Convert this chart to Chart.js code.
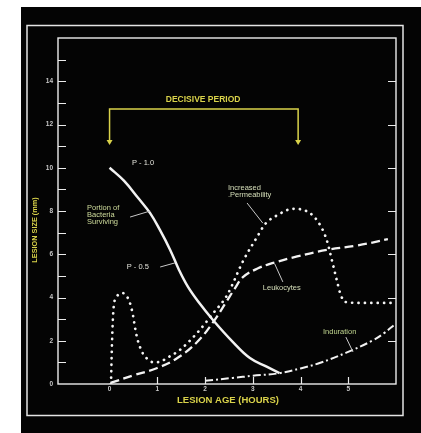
<!DOCTYPE html>
<html>
<head>
<meta charset="utf-8">
<script src="https://cdn.jsdelivr.net/npm/chart.js@4.4.1/dist/chart.umd.min.js"></script>
<style>
  html, body { margin: 0; padding: 0; background: #ffffff; }
  canvas { display: block; }
</style>
</head>
<body>
<canvas id="c" width="421" height="433"></canvas>
<script>
// Lesion age (hours) and lesion size (mm) for each response curve
const bacteriaAge  = [0.0, 0.3, 0.6, 0.85, 1.06, 1.27, 1.46, 1.64, 1.86, 2.17, 2.58, 2.94, 3.29, 3.56];
const bacteriaSize = [10.0, 9.4, 8.6, 7.9, 7.1, 6.2, 5.25, 4.5, 3.8, 2.95, 1.95, 1.2, 0.8, 0.5];

const permeabilityAge  = [0.03, 0.05, 0.08, 0.14, 0.28, 0.4, 0.47, 0.57, 0.7, 0.8, 0.92, 1.05, 1.2, 1.47, 1.83, 2.17, 2.46, 2.8, 3.09, 3.26, 3.51, 3.84, 4.2, 4.41, 4.55, 4.66, 4.76, 4.83, 4.93, 5.24, 6.0];
const permeabilitySize = [0.0, 1.8, 3.4, 4.0, 4.2, 3.9, 3.4, 2.2, 1.4, 1.15, 1.0, 1.02, 1.2, 1.57, 2.35, 3.27, 4.1, 5.7, 6.8, 7.4, 7.8, 8.1, 7.9, 7.35, 6.65, 5.7, 4.8, 4.2, 3.8, 3.75, 3.75];

const leukocyteAge  = [0.02, 0.5, 1.0, 1.42, 1.83, 2.17, 2.46, 2.62, 2.8, 3.11, 3.43, 3.93, 4.55, 5.18, 5.83];
const leukocyteSize = [0.05, 0.4, 0.74, 1.2, 1.93, 2.86, 3.85, 4.4, 4.95, 5.35, 5.6, 5.9, 6.2, 6.4, 6.7];

const indurationAge  = [2.0, 2.58, 3.0, 3.56, 4.0, 4.4, 4.96, 5.5, 5.75, 6.0];
const indurationSize = [0.15, 0.28, 0.38, 0.5, 0.72, 0.97, 1.45, 2.0, 2.35, 2.8];

// Axis ticks
const xTickLabels = [0, 1, 2, 3, 4, 5];
const yTickLabels = [0, 2, 4, 6, 8, 10, 12, 14];
const yMinorTicks = [1, 3, 5, 7, 9, 11, 13, 15];

// Decisive period bracket (hours) and its height (mm)
const decisiveStart = 0;
const decisiveEnd = 3.95;
const bracketTop = 12.72;
const bracketTip = 11.05;

// Curve labels: text lines, anchor in data units
const curveLabels = [
  { lines: ['P - 1.0'], x: 0.47, y: 10.22, color: '#e2e2da' },
  { lines: ['Portion of', 'Bacteria', 'Surviving'], x: -0.47, y: 8.14, color: '#cfdc9c' },
  { lines: ['P - 0.5'], x: 0.36, y: 5.41, color: '#e2e2da' },
  { lines: ['Increased', '.Permeability'], x: 2.48, y: 9.06, color: '#d6dfba' },
  { lines: ['Leukocytes'], x: 3.21, y: 4.44, color: '#d6dfba' },
  { lines: ['Induration'], x: 4.47, y: 2.4, color: '#bfd48e' }
];
// Pointer lines from labels to curves: [x1, y1, x2, y2]
const pointerLines = [
  [0.43, 7.72, 0.85, 8.0],
  [1.06, 5.41, 1.37, 5.6],
  [2.88, 8.37, 3.21, 7.44],
  [3.46, 5.55, 3.63, 4.72],
  [4.95, 2.17, 5.1, 1.48]
];

const toPoints = (xs, ys) => xs.map((x, i) => ({ x: x, y: ys[i] }));

const YELLOW = '#d9d24a';
const WHITE = '#ececec';

const slideDecor = {
  id: 'slideDecor',
  beforeDraw(chart) {
    const ctx = chart.ctx;
    ctx.save();
    ctx.fillStyle = '#ffffff';
    ctx.fillRect(0, 0, chart.width, chart.height);
    ctx.fillStyle = '#040404';
    ctx.fillRect(21, 7, chart.width - 21, chart.height - 7);
    ctx.restore();
  },
  afterDraw(chart) {
    const ctx = chart.ctx;
    const xs = chart.scales.x, ys = chart.scales.y;
    const a = chart.chartArea;
    const px = v => xs.getPixelForValue(v);
    const py = v => ys.getPixelForValue(v);
    ctx.save();

    // outer slide border
    ctx.strokeStyle = '#e4e4e4';
    ctx.lineWidth = 1.5;
    ctx.strokeRect(27, 25.5, 376, 390);

    // plot frame
    ctx.strokeStyle = WHITE;
    ctx.lineWidth = 1.4;
    ctx.strokeRect(a.left, a.top, a.right - a.left, a.bottom - a.top);

    // inward tick marks
    ctx.lineWidth = 1.2;
    ctx.beginPath();
    yTickLabels.concat(yMinorTicks).forEach(v => {
      if (v === 0) return;
      const y = Math.round(py(v)) + 0.5;
      ctx.moveTo(a.left, y); ctx.lineTo(a.left + 8, y);
    });
    yTickLabels.forEach(v => {
      if (v === 0) return;
      const y = Math.round(py(v)) + 0.5;
      ctx.moveTo(a.right, y); ctx.lineTo(a.right - 8, y);
    });
    xTickLabels.forEach(v => {
      if (v === 0) return;
      const x = Math.round(px(v)) + 0.5;
      ctx.moveTo(x, a.bottom); ctx.lineTo(x, a.bottom - 7);
    });
    ctx.stroke();

    // decisive period bracket
    ctx.strokeStyle = YELLOW;
    ctx.fillStyle = YELLOW;
    ctx.lineWidth = 1.5;
    const bx1 = px(decisiveStart), bx2 = px(decisiveEnd);
    const bt = py(bracketTop), bb = py(bracketTip);
    ctx.beginPath();
    ctx.moveTo(bx1, bb - 4); ctx.lineTo(bx1, bt); ctx.lineTo(bx2, bt); ctx.lineTo(bx2, bb - 4);
    ctx.stroke();
    [bx1, bx2].forEach(x => {
      ctx.beginPath();
      ctx.moveTo(x - 3, bb - 5); ctx.lineTo(x + 3, bb - 5); ctx.lineTo(x, bb); ctx.closePath();
      ctx.fill();
    });
    ctx.font = 'bold 8.5px "Liberation Sans", Arial, sans-serif';
    ctx.textAlign = 'center';
    ctx.textBaseline = 'middle';
    ctx.fillText('DECISIVE PERIOD', px(1.96), py(13.13));

    // axis titles
    ctx.font = 'bold 9.5px "Liberation Sans", Arial, sans-serif';
    ctx.fillText('LESION AGE (HOURS)', 228, 400);
    ctx.save();
    ctx.translate(35, 230);
    ctx.rotate(-Math.PI / 2);
    ctx.font = 'bold 7.3px "Liberation Sans", Arial, sans-serif';
    ctx.fillText('LESION SIZE (mm)', 0, 0);
    ctx.restore();

    // pointer lines
    ctx.strokeStyle = '#c8c8c8';
    ctx.lineWidth = 1;
    ctx.beginPath();
    pointerLines.forEach(p => { ctx.moveTo(px(p[0]), py(p[1])); ctx.lineTo(px(p[2]), py(p[3])); });
    ctx.stroke();

    // curve labels
    ctx.font = '7.5px "Liberation Sans", Arial, sans-serif';
    ctx.textAlign = 'left';
    curveLabels.forEach(l => {
      ctx.fillStyle = l.color;
      l.lines.forEach((t, i) => ctx.fillText(t, px(l.x), py(l.y) + i * 7.2));
    });

    ctx.restore();
  }
};

new Chart(document.getElementById('c'), {
  type: 'line',
  data: {
    datasets: [
      {
        label: 'Portion of Bacteria Surviving',
        data: toPoints(bacteriaAge, bacteriaSize),
        borderColor: '#f2f2f2', borderWidth: 2.5,
        tension: 0.4, pointRadius: 0
      },
      {
        label: 'Increased Permeability',
        data: toPoints(permeabilityAge, permeabilitySize),
        borderColor: '#f4f4f4', borderWidth: 2.7,
        borderDash: [0.1, 6.3], borderCapStyle: 'round',
        cubicInterpolationMode: 'monotone', pointRadius: 0
      },
      {
        label: 'Leukocytes',
        data: toPoints(leukocyteAge, leukocyteSize),
        borderColor: '#f2f2f2', borderWidth: 2.3,
        borderDash: [9, 4.5],
        tension: 0.4, pointRadius: 0
      },
      {
        label: 'Induration',
        data: toPoints(indurationAge, indurationSize),
        borderColor: '#f2f2f2', borderWidth: 2.0,
        borderDash: [8, 3, 2, 3],
        tension: 0.4, pointRadius: 0
      }
    ]
  },
  options: {
    responsive: false,
    devicePixelRatio: 1,
    animation: false,
    events: [],
    layout: { padding: { left: 0, top: 38, right: 25, bottom: 0 } },
    plugins: { legend: { display: false }, tooltip: { enabled: false } },
    scales: {
      x: {
        type: 'linear', min: -1.08, max: 6,
        grid: { display: false, drawTicks: false },
        border: { display: false },
        afterFit: s => { s.height = 49; },
        ticks: {
          stepSize: 1, autoSkip: false, maxRotation: 0, padding: 1,
          color: '#c9c9c9',
          font: { family: '"Liberation Sans", Arial, sans-serif', size: 6.5, weight: 'bold' },
          callback: v => xTickLabels.includes(v) ? String(v) : ''
        }
      },
      y: {
        type: 'linear', min: 0, max: 16,
        grid: { display: false, drawTicks: false },
        border: { display: false },
        afterFit: s => { s.width = 58; },
        ticks: {
          stepSize: 1, autoSkip: false, padding: 5,
          color: '#c9c9c9',
          font: { family: '"Liberation Sans", Arial, sans-serif', size: 6.5, weight: 'bold' },
          callback: v => yTickLabels.includes(v) ? String(v) : ''
        }
      }
    }
  },
  plugins: [slideDecor]
});
</script>
</body>
</html>
